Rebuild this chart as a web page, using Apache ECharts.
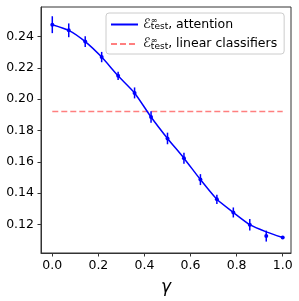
<!DOCTYPE html>
<html><head><meta charset="utf-8">
<script src="https://cdn.jsdelivr.net/npm/echarts@6/dist/echarts.min.js"></script>
<style>html,body{margin:0;padding:0;background:#fff}#c{width:299px;height:301px}</style>
</head><body><div id="c"></div>
<script>
// gamma values (15 points, k/14)
const gammas = [0, 0.0714, 0.1429, 0.2143, 0.2857, 0.3571, 0.4286, 0.5, 0.5714, 0.6429, 0.7143, 0.7857, 0.8571, 0.9286, 1.0];
// theory curve, attention
const attentionCurve = [0.2476, 0.2440, 0.2368, 0.2269, 0.2149, 0.2040, 0.1886, 0.1749, 0.1623, 0.1486, 0.1360, 0.1276, 0.1198, 0.1152, 0.1116];
// simulation points with error bars
const simMean = [0.2476, 0.2440, 0.2368, 0.2269, 0.2149, 0.2040, 0.1886, 0.1749, 0.1623, 0.1486, 0.1360, 0.1276, 0.1198, 0.1125, 0.1116];
const simErr  = [0.0054, 0.0044, 0.0034, 0.0033, 0.0027, 0.0035, 0.0037, 0.0037, 0.0035, 0.0035, 0.0030, 0.0032, 0.0037, 0.0035, 0.0004];
// linear classifiers level
const linearLevel = 0.1922;
const linearRange = [0, 1];
const yTicks = [0.12, 0.14, 0.16, 0.18, 0.20, 0.22, 0.24];
const xTicks = [0, 0.2, 0.4, 0.6, 0.8, 1.0];

const chart = echarts.init(document.getElementById('c'), null, {renderer: 'canvas'});
const font = 'DejaVu Sans';
const blue = '#0000ff';

const option = {
  animation: false,
  backgroundColor: '#fff',
  grid: {left: 41, right: 8, top: 7, bottom: 45, show: true, borderColor: '#333', borderWidth: 1, backgroundColor: 'transparent'},
  xAxis: {
    type: 'value', min: -0.049, max: 1.036,
    splitLine: {show: false},
    axisLine: {show: true, onZero: false, lineStyle: {color: '#333', width: 1}},
    axisTick: {show: true, length: 3.5, lineStyle: {color: '#333'}, customValues: xTicks},
    axisLabel: {color: '#000', fontFamily: font, fontSize: 12.5, margin: 6, customValues: xTicks,
      formatter: v => v.toFixed(1)},
    name: 'γ', nameLocation: 'middle', nameGap: 26,
    nameTextStyle: {color: '#000', fontFamily: font, fontSize: 17, fontStyle: 'italic'}
  },
  yAxis: {
    type: 'value', min: 0.1017, max: 0.2589,
    splitLine: {show: false},
    axisLine: {show: true, onZero: false, lineStyle: {color: '#333', width: 1}},
    axisTick: {show: true, length: 3.5, lineStyle: {color: '#333'}, customValues: yTicks},
    axisLabel: {color: '#000', fontFamily: font, fontSize: 12.5, margin: 7, customValues: yTicks,
      formatter: v => v.toFixed(2)}
  },
  legend: {
    orient: 'vertical', left: 106, top: 13,
    itemWidth: 27, itemHeight: 14, itemGap: 5,
    padding: [4, 7, 3, 4],
    backgroundColor: 'rgba(255,255,255,0.8)', borderColor: '#ccc', borderWidth: 1, borderRadius: 3,
    itemStyle: {opacity: 0},
    data: ['att', 'lin'],
    formatter: function (name) {
      const label = name === 'att' ? ', attention' : ', linear classifiers';
      return '{e|ℰ}{sup|∞}{sub|test}{t|' + label + '}';
    },
    textStyle: {
      fontFamily: font, fontSize: 12.5, color: '#000',
      rich: {
        e: {fontFamily: font, fontSize: 13, fontStyle: 'italic', color: '#000'},
        sup: {fontFamily: font, fontSize: 8, color: '#000', width: 0, padding: [0, 0, 7, 0]},
        sub: {fontFamily: font, fontSize: 9, color: '#000', padding: [5, 0, 0, 0]},
        t: {fontFamily: font, fontSize: 12.5, color: '#000'}
      }
    }
  },
  series: [
    {
      name: 'att', type: 'line', symbol: 'none', smooth: 0.2,
      lineStyle: {color: blue, width: 1.5}, itemStyle: {color: blue},
      data: gammas.map((g, i) => [g, attentionCurve[i]]), z: 3
    },
    {
      name: 'lin', type: 'line', symbol: 'none',
      lineStyle: {color: 'rgba(255,0,0,0.5)', width: 1.5, type: [6, 3]}, itemStyle: {color: 'rgba(255,0,0,0.5)'},
      data: linearRange.map(g => [g, linearLevel]), z: 2
    },
    {
      name: 'sim', type: 'custom', z: 4,
      data: gammas.map((g, i) => [g, simMean[i], simErr[i]]),
      renderItem: function (params, api) {
        const x = api.value(0), y = api.value(1), e = api.value(2);
        const p = api.coord([x, y]);
        const lo = api.coord([x, y - e]);
        const hi = api.coord([x, y + e]);
        return {
          type: 'group',
          children: [
            {type: 'line', shape: {x1: p[0], y1: hi[1], x2: p[0], y2: lo[1]}, style: {stroke: blue, lineWidth: 1.5}},
            {type: 'circle', shape: {cx: p[0], cy: p[1], r: 2}, style: {fill: blue}}
          ]
        };
      }
    }
  ]
};
chart.setOption(option);
</script>
</body></html>
